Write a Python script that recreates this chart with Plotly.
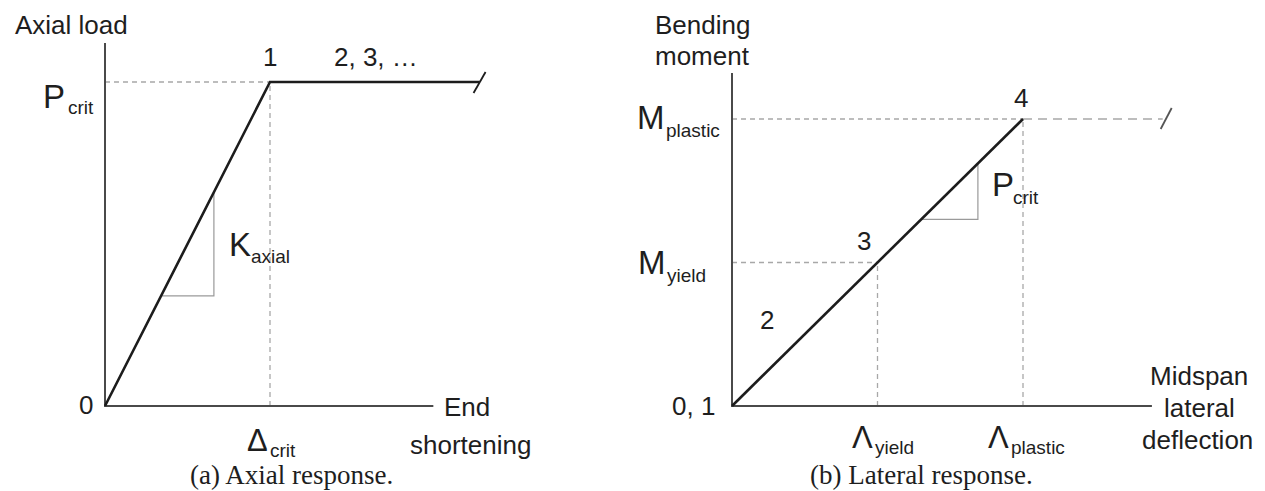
import plotly.graph_objects as go

# ---------------- data (normalised schematic values) ----------------
# (a) axial response
axial_shortening = [0.0, 1.0, 2.27]      # 0, Δcrit, end of plateau
axial_load = [0.0, 1.0, 1.0]             # 0, Pcrit, Pcrit
axial_axis_x_end = 1.99
axial_axis_y_end = 1.12
axial_slope_tri_x = [0.34, 0.66, 0.66]
axial_slope_tri_y = [0.34, 0.34, 0.66]

# (b) lateral response
lateral_deflection = [0.0, 0.5, 1.0]     # 0, Λyield, Λplastic
bending_moment = [0.0, 0.5, 1.0]         # 0, Myield, Mplastic
lateral_axis_x_end = 1.443
lateral_axis_y_end = 1.16
lateral_plastic_dash_end = 1.48
lateral_slope_tri_x = [0.65, 0.845, 0.845]
lateral_slope_tri_y = [0.65, 0.65, 0.845]

# ---------------- layout constants (pixels) ----------------
W, H = 1265, 491
AO = (105, 406, 165, 324)   # left panel origin x, origin y, px per unit x, px per unit y
BO = (732, 406, 291, 287)   # right panel

def rng_x(o, x0px, x1px):
    return [(x0px - o[0]) / o[2], (x1px - o[0]) / o[2]]

def rng_y(o):
    return [(o[1] - H) / o[3], o[1] / o[3]]

def A(px, py):
    return (px - AO[0]) / AO[2], (AO[1] - py) / AO[3]

def B(px, py):
    return (px - BO[0]) / BO[2], (BO[1] - py) / BO[3]

CURVE = "#1c1c1c"
AXIS = "#4a4a4a"
DASH = "#a8a8a8"
TRI = "#9a9a9a"
TXT = "#1e1e1e"
SANS = "Liberation Sans, Arial, sans-serif"
SERIF = "Liberation Serif, Times New Roman, serif"
LBL = 26
BIG = 33
SUB = 19

fig = go.Figure()

def line(xs, ys, color, width, dash="solid", xa="x", ya="y"):
    fig.add_trace(go.Scatter(x=xs, y=ys, mode="lines", xaxis=xa, yaxis=ya,
                             line=dict(color=color, width=width, dash=dash),
                             hoverinfo="skip", showlegend=False))

# ---- panel (a) ----
dx, dy = axial_shortening[1], axial_load[1]
line([0, dx], [dy, dy], DASH, 1.3, "5px,4px")
line([dx, dx], [0, dy], DASH, 1.3, "5px,4px")
line(axial_slope_tri_x + [axial_slope_tri_x[0]], axial_slope_tri_y + [axial_slope_tri_y[0]], TRI, 1.2)
line([0, 0, axial_axis_x_end], [axial_axis_y_end, 0, 0], AXIS, 2)
line(axial_shortening, axial_load, CURVE, 2.6)
ex, ey = axial_shortening[-1], axial_load[-1]
line([ex - 6 / AO[2], ex + 6 / AO[2]], [ey - 11 / AO[3], ey + 10 / AO[3]], CURVE, 1.8)

# ---- panel (b) ----
yx, yy = lateral_deflection[1], bending_moment[1]
px_, py_ = lateral_deflection[2], bending_moment[2]
line([0, yx], [yy, yy], DASH, 1.3, "5px,4px", "x2", "y2")
line([yx, yx], [0, yy], DASH, 1.3, "5px,4px", "x2", "y2")
line([0, px_], [py_, py_], DASH, 1.3, "5px,4px", "x2", "y2")
line([px_, lateral_plastic_dash_end], [py_, py_], DASH, 1.5, "9px,6px", "x2", "y2")
line([px_, px_], [0, py_], DASH, 1.3, "5px,4px", "x2", "y2")
line(lateral_slope_tri_x + [lateral_slope_tri_x[0]], lateral_slope_tri_y + [lateral_slope_tri_y[0]], TRI, 1.2, xa="x2", ya="y2")
line([0, 0, lateral_axis_x_end], [lateral_axis_y_end, 0, 0], AXIS, 2, xa="x2", ya="y2")
line(lateral_deflection, bending_moment, CURVE, 2.6, xa="x2", ya="y2")
bx = lateral_plastic_dash_end
line([bx - 2 / BO[2], bx + 9 / BO[2]], [py_ - 10 / BO[3], py_ + 11 / BO[3]], "#555555", 1.8, xa="x2", ya="y2")

# ---------------- text ----------------
ann = []

def txt(text, pos, size, ref="a", font=SANS, xanchor="center", yanchor="middle"):
    x, y = pos
    ann.append(dict(text=text, x=x, y=y, xref="x" if ref == "a" else "x2",
                    yref="y" if ref == "a" else "y2", showarrow=False,
                    xanchor=xanchor, yanchor=yanchor,
                    font=dict(family=font, size=size, color=TXT)))

# panel (a)
txt("Axial load", A(71, 25), LBL)
txt("P", A(67, 96), BIG, xanchor="right")
txt("crit", A(66, 107), SUB, xanchor="left")
txt("1", A(270, 57), LBL)
txt("2, 3, \u2026", A(376, 57), LBL)
txt("0", A(86, 405), LBL)
txt("K", A(227, 244), BIG, xanchor="left")
txt("axial", A(249, 256), SUB, xanchor="left")
txt("\u0394", A(270, 440), 31, xanchor="right")
txt("crit", A(268, 450), SUB, xanchor="left")
txt("End", A(467, 407), LBL)
txt("shortening", A(470, 445), LBL)
txt("(a) Axial response.", A(291, 475), 27, font=SERIF)

# panel (b)
txt("Bending", B(702, 25), LBL, ref="b")
txt("moment", B(702, 56), LBL, ref="b")
txt("M", B(667, 117), BIG, ref="b", xanchor="right")
txt("plastic", B(664, 130), SUB, ref="b", xanchor="left")
txt("M", B(668, 262), BIG, ref="b", xanchor="right")
txt("yield", B(665, 275), SUB, ref="b", xanchor="left")
txt("0, 1", B(717, 406), LBL, ref="b", xanchor="right")
txt("2", B(767, 320), LBL, ref="b")
txt("3", B(864, 241), LBL, ref="b")
txt("4", B(1021, 98), LBL, ref="b")
txt("P", B(990, 184), BIG, ref="b", xanchor="left")
txt("crit", B(1011, 197), SUB, ref="b", xanchor="left")
txt("\u039b", B(875, 437), 31, ref="b", xanchor="right")
txt("yield", B(873, 447), SUB, ref="b", xanchor="left")
txt("\u039b", B(1011, 437), 31, ref="b", xanchor="right")
txt("plastic", B(1009, 447), SUB, ref="b", xanchor="left")
txt("Midspan", B(1199, 376), LBL, ref="b")
txt("lateral", B(1199, 408), LBL, ref="b")
txt("deflection", B(1197, 440), LBL, ref="b")
txt("(b) Lateral response.", B(921, 475), 27, ref="b", font=SERIF)

ax_common = dict(visible=False, fixedrange=True, showgrid=False, zeroline=False)
fig.update_layout(
    width=W, height=H,
    margin=dict(l=0, r=0, t=0, b=0),
    paper_bgcolor="white", plot_bgcolor="white",
    showlegend=False,
    annotations=ann,
    xaxis=dict(domain=[0, 0.5], range=rng_x(AO, 0, W / 2), **ax_common),
    yaxis=dict(domain=[0, 1], range=rng_y(AO), anchor="x", **ax_common),
    xaxis2=dict(domain=[0.5, 1], range=rng_x(BO, W / 2, W), anchor="y2", **ax_common),
    yaxis2=dict(domain=[0, 1], range=rng_y(BO), anchor="x2", **ax_common),
)

fig.write_html("out.html", config={"displayModeBar": False},
               post_script="document.body.style.margin='0px';document.body.style.padding='0px';")
